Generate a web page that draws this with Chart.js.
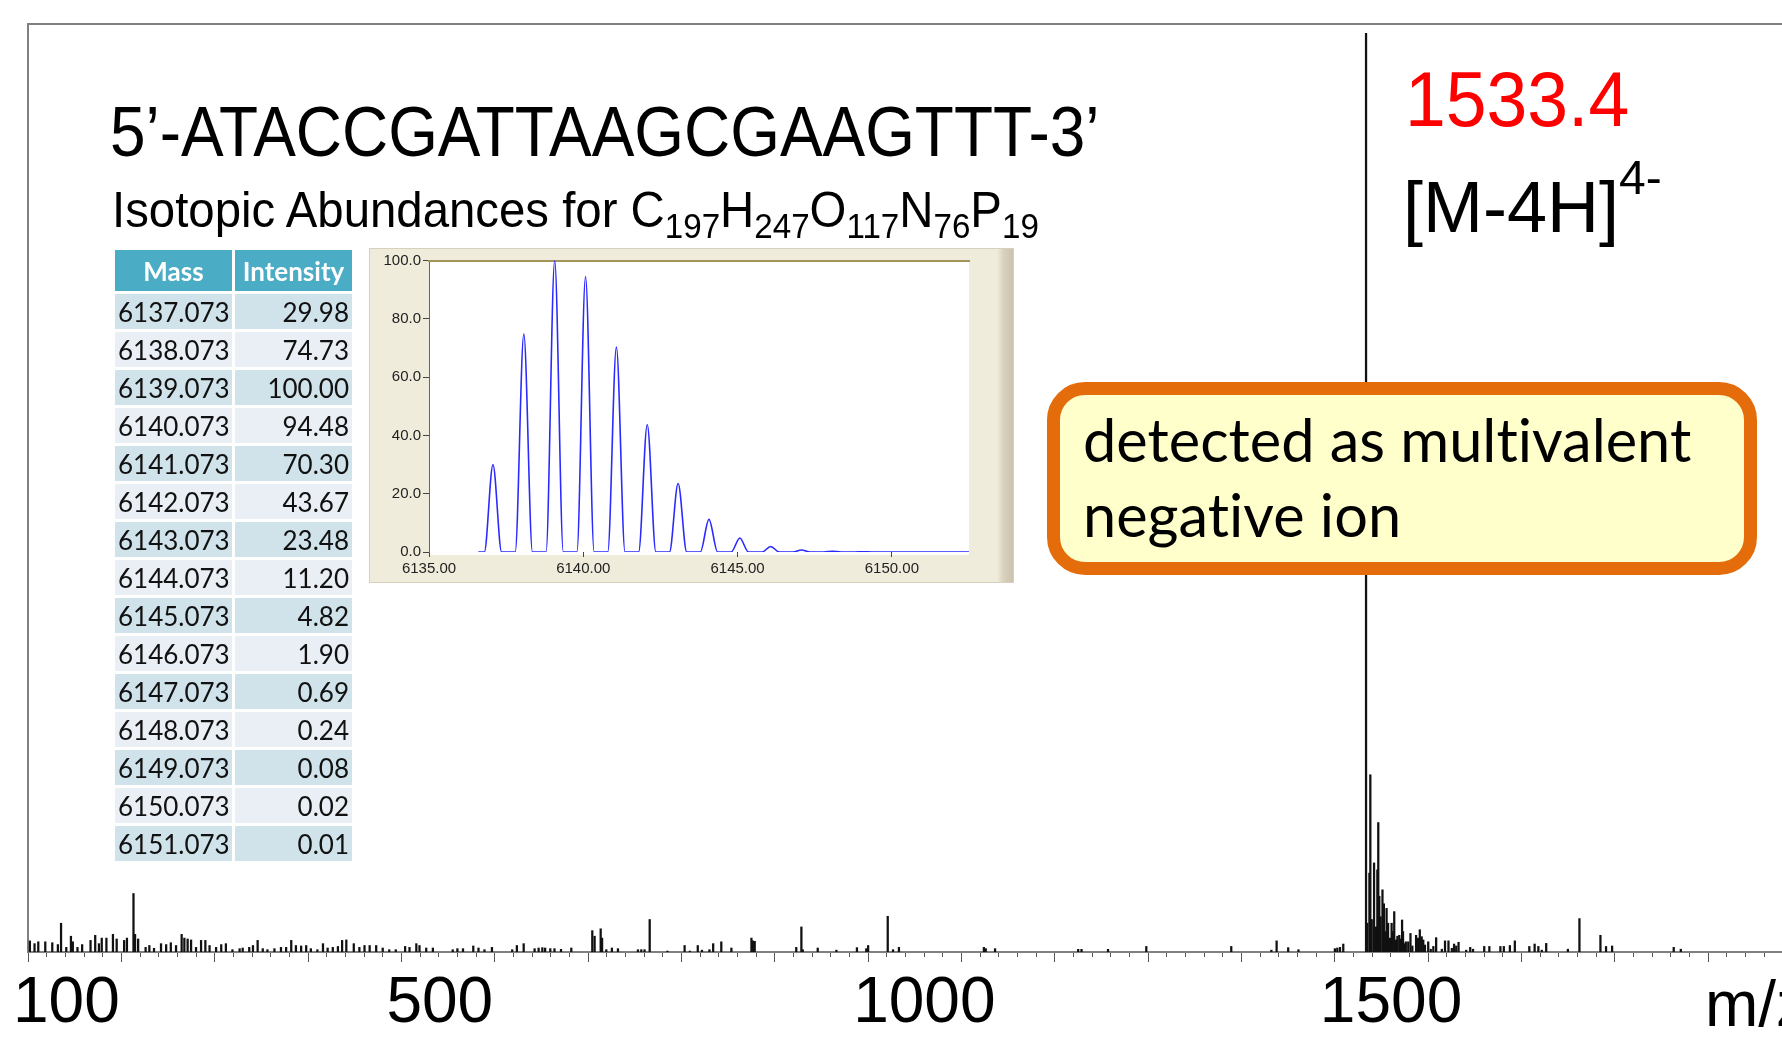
<!DOCTYPE html>
<html>
<head>
<meta charset="utf-8">
<script src="https://cdn.jsdelivr.net/npm/chart.js"></script>
<style>
  body { margin: 0; width: 1782px; height: 1043px; overflow: hidden; background: #fff; position: relative; font-family: Arial, 'Liberation Sans', sans-serif; }
  #spectrum { position: absolute; left: 0; top: 0; }
  .txt { position: absolute; white-space: nowrap; line-height: 1; transform-origin: 0 0; }
  #seq { left: 110px; top: 97px; font-size: 70px; transform: scaleX(0.913); }
  #formula { left: 112px; top: 185px; font-size: 50px; transform: scaleX(0.947); }
  #formula sub { font-size: 35px; vertical-align: -11px; }
  #mzValue { left: 1405px; top: 60px; font-size: 78px; color: #ff0000; transform: scaleX(0.94); }
  #ionName { left: 1403px; top: 154px; font-size: 72px; }
  #ionName sup { font-size: 48px; vertical-align: 38px; }
  #axisName { left: 1705px; top: 972px; font-size: 64px; }
  #table { position: absolute; left: 115px; top: 250px; display: grid; grid-template-columns: 117px 117px; grid-auto-rows: 35px; grid-template-rows: 41px; column-gap: 3px; row-gap: 3px; font-family: Lato, sans-serif; font-size: 26px; }
  #table div { display: flex; align-items: center; padding: 0 3px; color: #111; }
  #table .head { background: #4bacc6; color: #fff; font-weight: bold; justify-content: center; }
  #table .num { justify-content: flex-end; }
  #table .odd { background: #d0e3ea; }
  #table .even { background: #e9eff5; }
  #inset { position: absolute; left: 369px; top: 248px; width: 645px; height: 335px; box-sizing: border-box; border: 1px solid #d6d0bd; background: linear-gradient(to right, #f0ecdc 0%, #f0ecdc 97.5%, #d8d2be 98.5%, #c9c3ae 100%); }
  #isotope { position: absolute; left: -1px; top: -1px; }
  #callout { position: absolute; left: 1047px; top: 382px; width: 710px; height: 193px; box-sizing: border-box; border: 13px solid #e46c0a; border-radius: 38px; background: #ffffcc; padding: 7px 0 0 23px; font-family: Lato, sans-serif; font-size: 59.5px; line-height: 75px; color: #000; font-variant-ligatures: none; }
</style>
</head>
<body>
<canvas id="spectrum" width="1782" height="1043"></canvas>

<div class="txt" id="seq">5’-ATACCGATTAAGCGAAGTTT-3’</div>
<div class="txt" id="formula">Isotopic Abundances for C<sub>197</sub>H<sub>247</sub>O<sub>117</sub>N<sub>76</sub>P<sub>19</sub></div>
<div class="txt" id="mzValue">1533.4</div>
<div class="txt" id="ionName">[M-4H]<sup>4-</sup></div>
<div class="txt" id="axisName">m/z</div>

<div id="table"></div>

<div id="inset"><canvas id="isotope" width="645" height="335"></canvas></div>

<div id="callout">detected as multivalent<br>negative ion</div>

<script>
/* spectrum sticks: m/z and relative intensity (%) */
let peakMz = [
  102, 107, 111, 118.5, 126, 132, 135.4, 141, 146, 148, 153, 158, 167, 172, 176, 179, 184, 191, 195, 203,
  206, 213, 214.7, 218, 226, 230, 235, 242.5, 248, 253, 258.6, 264.6, 267.5, 271, 274.7, 280, 285.4, 290, 294.5, 301.5,
  307, 312, 319, 326.7, 330, 337, 341, 346, 351.5, 356.5, 364, 371, 376.5, 382, 387, 392.6, 398, 403, 410, 416,
  421, 426.5, 432, 436.5, 441, 449, 455, 460.5, 466, 473, 480, 487, 494, 504, 508.7, 516, 519.4, 526.6, 533.7, 555,
  560, 566, 577, 582.6, 589, 597, 618.7, 623.7, 631, 642.7, 647, 651, 654, 659.5, 664, 671, 682, 704.5, 707, 713.5,
  715, 719.5, 725.5, 732, 753.4, 757, 760.5, 766, 785, 803.4, 809, 817.5, 822, 830, 834, 842.7, 853.5, 875, 876.6, 878.5,
  923, 928.5, 930, 946, 966, 988, 998, 1000, 1021, 1026.7, 1033, 1124, 1126, 1136, 1225, 1228.6, 1257, 1298, 1389, 1432,
  1437.6, 1450, 1461, 1500, 1502.6, 1505.5, 1509, 1533.4, 1534.8, 1537, 1538, 1539.5, 1542, 1544, 1545.5, 1546.5, 1547.6, 1549, 1551, 1552.5,
  1553.6, 1555.4, 1557, 1559, 1560.8, 1562, 1563.6, 1565.5, 1567, 1569, 1570.5, 1572, 1573, 1575, 1576, 1578.6, 1581, 1583, 1587, 1589,
  1591, 1593, 1594.7, 1596.5, 1600, 1602.7, 1605.5, 1608.5, 1614.6, 1618, 1621.7, 1625.3, 1627.7, 1630, 1632.5, 1640.7, 1645, 1648, 1660, 1665.5,
  1677.3, 1681, 1687.5, 1692.8, 1708.3, 1714, 1718, 1721.7, 1726.4, 1749.6, 1762, 1784.5, 1790.5, 1797, 1863, 1870.6
];
let peakIntensity = [
  1.2, 0.9, 1.1, 1.1, 1.0, 0.8, 3.1, 0.5, 1.7, 1.1, 0.5, 0.8, 1.25, 1.8, 0.9, 1.5, 1.5, 1.9, 1.4, 1.25,
  1.5, 6.3, 1.9, 1.4, 0.5, 0.7, 0.4, 0.9, 0.8, 1.0, 0.7, 1.9, 1.5, 1.4, 1.3, 0.5, 1.25, 1.25, 0.7, 0.5,
  0.8, 0.9, 0.25, 0.36, 0.43, 0.5, 0.7, 1.25, 0.36, 0.25, 0.36, 0.5, 0.5, 1.25, 0.7, 0.65, 0.7, 0.36, 0.25, 0.9,
  0.43, 0.5, 0.6, 1.25, 1.3, 0.9, 0.5, 0.7, 0.7, 0.7, 0.43, 0.25, 0.25, 0.6, 0.5, 0.9, 0.7, 0.43, 0.43, 0.25,
  0.36, 0.36, 0.65, 0.43, 0.25, 0.5, 0.25, 0.7, 0.9, 0.36, 0.43, 0.47, 0.43, 0.36, 0.36, 0.29, 0.43, 2.3, 1.7, 2.5,
  1.5, 0.25, 0.43, 0.36, 0.25, 0.25, 0.25, 3.5, 0.1, 0.7, 0.1, 0.7, 0.2, 0.25, 0.9, 1.1, 0.43, 1.5, 1.2, 1.15,
  0.5, 2.7, 0.25, 0.43, 0.2, 0.47, 0.36, 0.7, 3.85, 0.25, 0.5, 0.5, 0.36, 0.36, 0.29, 0.29, 0.29, 0.6, 0.6, 0.2,
  1.2, 0.47, 0.25, 0.36, 0.43, 0.5, 0.86, 99, 3.1, 8.5, 19.1, 3.5, 9.6, 2.7, 8.85, 13.95, 6, 3.8, 6.7, 5.2,
  2.2, 4.7, 3.1, 1.5, 3.1, 2.2, 4.35, 1.3, 1.7, 1.8, 1.4, 3.45, 2.2, 0.9, 1.1, 1.1, 2.0, 0.65, 1.8, 1.5,
  2.4, 1.65, 1.3, 0.75, 1.1, 0.3, 0.6, 1.55, 0.3, 1.2, 1.2, 0.4, 0.86, 0.65, 1.05, 0.2, 0.5, 0.3, 0.6, 0.6,
  0.6, 0.6, 0.7, 1.2, 0.6, 0.86, 0.6, 0.2, 0.93, 0.3, 3.6, 1.8, 0.6, 0.65, 0.5, 0.3
];
let axisLabels = [100, 500, 1000, 1500];

/* isotope table */
let isotopeMass = [6137.073, 6138.073, 6139.073, 6140.073, 6141.073, 6142.073, 6143.073, 6144.073,
  6145.073, 6146.073, 6147.073, 6148.073, 6149.073, 6150.073, 6151.073];
let isotopeIntensity = [29.98, 74.73, 100.00, 94.48, 70.30, 43.67, 23.48, 11.20,
  4.82, 1.90, 0.69, 0.24, 0.08, 0.02, 0.01];
let profileStart = 6136.6;
let profileEnd = 6152.5;
let peakHalfWidth = 0.28;

/*fill the table*/
let table = document.getElementById('table');
table.innerHTML = '<div class="head">Mass</div><div class="head">Intensity</div>';
isotopeMass.forEach(function(mass, i) {
  let cls = i % 2 === 0 ? 'odd' : 'even';
  table.innerHTML += `<div class="${cls}">${mass.toFixed(3)}</div><div class="${cls} num">${isotopeIntensity[i].toFixed(2)}</div>`;
});

/*draw the spectrum*/
let axisFont = { family: 'Arial, sans-serif', size: 64, lineHeight: 1.2 };
let spectrumChart = new Chart(document.getElementById('spectrum'), {
  type: 'bar',
  data: {
    datasets: [{
      data: peakMz.map((mz, i) => ({ x: mz, y: peakIntensity[i] })),
      backgroundColor: '#111',
      barThickness: 1.6,
      grouped: false
    }]
  },
  options: {
    responsive: false,
    animation: false,
    layout: { padding: { left: 28, top: 24, right: 0, bottom: 0 } },
    plugins: { legend: { display: false }, tooltip: { enabled: false } },
    scales: {
      x: {
        type: 'linear',
        min: 100,
        max: 1979,
        offset: false,
        afterFit: scale => { scale.height = 91; },
        border: { color: '#808080', width: 2 },
        grid: {
          offset: false,
          drawOnChartArea: false,
          tickLength: 10,
          tickColor: '#555',
          tickWidth: 1,
          tickBorderDash: ctx => (ctx.tick && Math.round(ctx.tick.value) % 100 === 0) ? [] : [4, 40]
        },
        ticks: {
          stepSize: 20,
          autoSkip: false,
          includeBounds: false,
          maxRotation: 0,
          align: 'start',
          labelOffset: -15,
          padding: 4,
          color: '#000',
          font: axisFont,
          callback: v => axisLabels.includes(Math.round(v)) ? String(Math.round(v)) : ''
        }
      },
      y: {
        min: 0,
        max: 100,
        afterFit: scale => { scale.width = 0; },
        grid: { display: false, drawTicks: false },
        ticks: { display: false },
        border: { color: '#808080', width: 2 }
      },
      top: {
        type: 'linear',
        axis: 'x',
        position: 'top',
        min: 100,
        max: 1979,
        afterFit: scale => { scale.height = 0; },
        grid: { display: false, drawTicks: false },
        ticks: { display: false },
        border: { color: '#808080', width: 2 }
      }
    }
  }
});

/*draw the isotope profile*/
let profilePoints = [{ x: profileStart, y: 0 }];
isotopeMass.forEach(function(mass, i) {
  profilePoints.push({ x: mass - peakHalfWidth, y: 0 });
  profilePoints.push({ x: mass, y: isotopeIntensity[i] });
  profilePoints.push({ x: mass + peakHalfWidth, y: 0 });
});
profilePoints.push({ x: profileEnd, y: 0 });

let plotBackground = {
  id: 'plotBackground',
  beforeDraw(chart) {
    let a = chart.chartArea;
    chart.ctx.save();
    chart.ctx.fillStyle = '#fff';
    chart.ctx.fillRect(a.left, a.top, a.right - a.left, a.bottom - a.top + 3);
    chart.ctx.restore();
  }
};

let insetFont = { family: 'Arial, sans-serif', size: 15 };
let isoChart = new Chart(document.getElementById('isotope'), {
  type: 'line',
  data: {
    datasets: [{
      data: profilePoints,
      borderColor: '#2a2aff',
      borderWidth: 1.6,
      pointRadius: 0,
      cubicInterpolationMode: 'monotone',
      fill: false
    }]
  },
  options: {
    responsive: false,
    animation: false,
    layout: { padding: { left: 0, top: 12.5, right: 45, bottom: 0 } },
    plugins: { legend: { display: false }, tooltip: { enabled: false } },
    scales: {
      x: {
        type: 'linear',
        min: 6135,
        max: profileEnd,
        afterFit: scale => { scale.height = 31; },
        border: { display: false },
        grid: { drawOnChartArea: false, tickLength: 5, tickColor: '#444' },
        ticks: { stepSize: 5, includeBounds: false, maxRotation: 0, padding: 3, color: '#222', font: insetFont, callback: v => v.toFixed(2) }
      },
      y: {
        min: 0,
        max: 100,
        afterFit: scale => { scale.width = 60; },
        border: { color: '#666', width: 1 },
        grid: { drawOnChartArea: false, tickLength: 6, tickColor: '#444' },
        ticks: { stepSize: 20, padding: 2, color: '#222', font: insetFont, callback: v => v.toFixed(1) }
      },
      top: {
        type: 'linear',
        axis: 'x',
        position: 'top',
        min: 6135,
        max: profileEnd,
        afterFit: scale => { scale.height = 0; },
        grid: { display: false, drawTicks: false },
        ticks: { display: false },
        border: { color: '#a39559', width: 2 }
      }
    }
  },
  plugins: [plotBackground]
});
</script>
</body>
</html>
